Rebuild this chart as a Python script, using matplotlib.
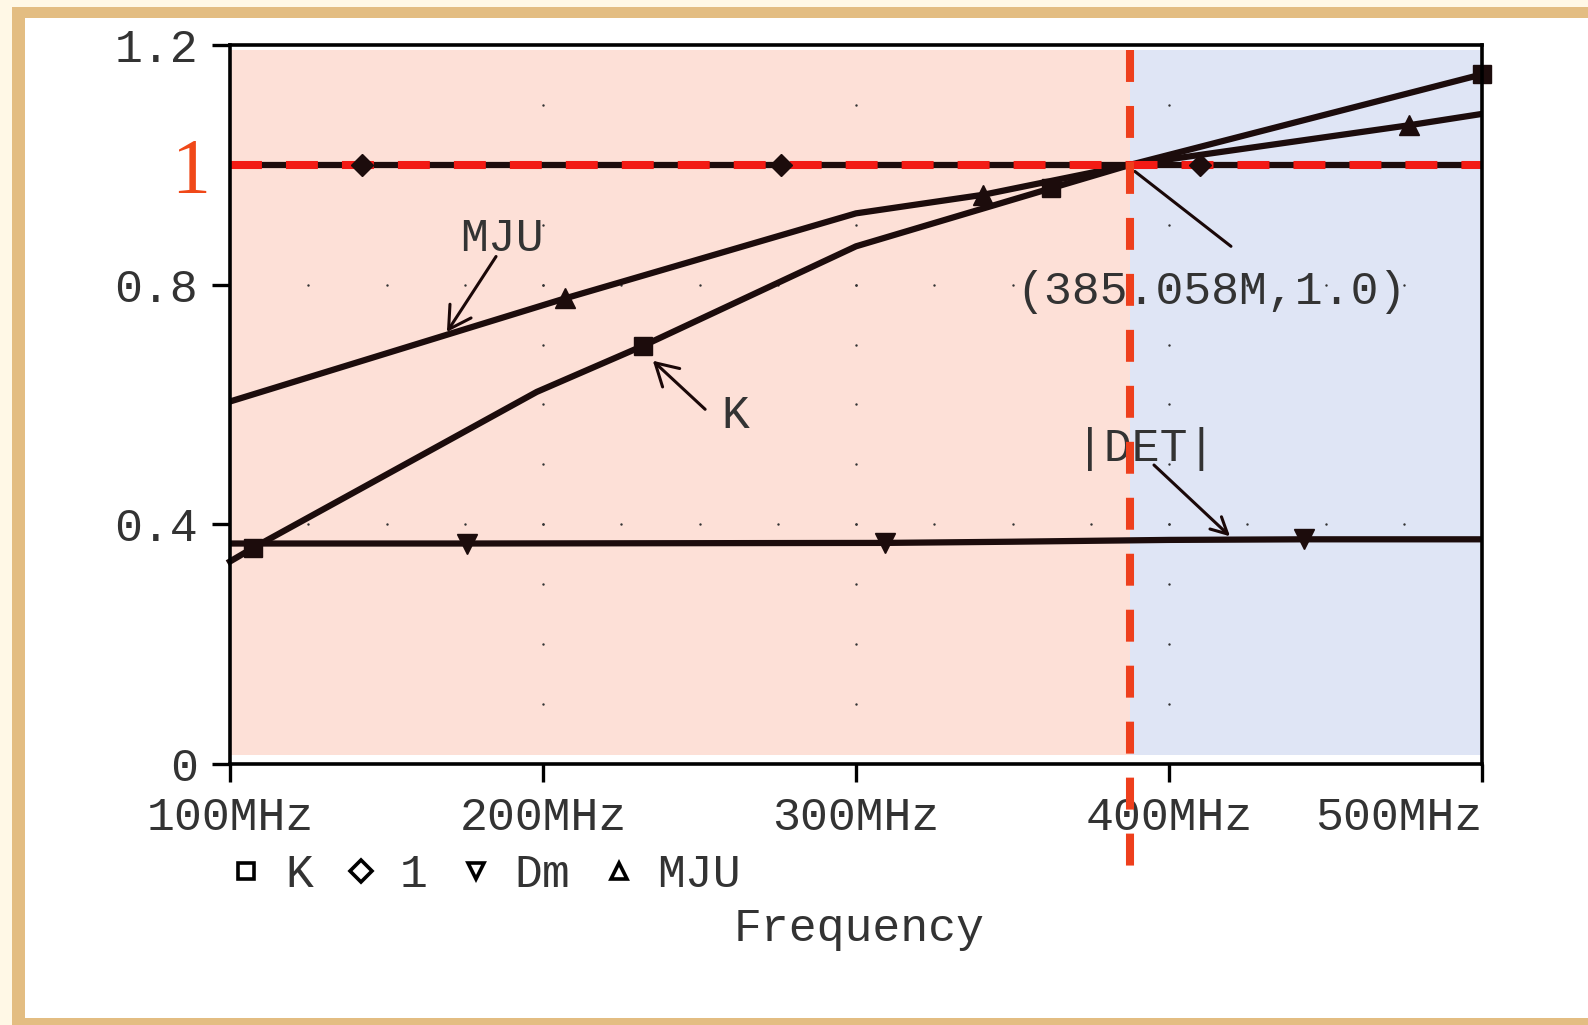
import numpy as np
import matplotlib
matplotlib.use('Agg')
import matplotlib.pyplot as plt
from matplotlib.patches import Rectangle
from matplotlib.lines import Line2D

# ---------------- data ----------------
freq_K = [100, 107.5, 198, 232, 300, 362.4, 387.6, 500]
val_K = [0.338, 0.361, 0.621, 0.698, 0.864, 0.961, 1.0, 1.151]
mark_K = [1, 3, 5, 7]

freq_one = [100, 142.1, 276, 409.8, 500]
val_one = [1.0, 1.0, 1.0, 1.0, 1.0]
mark_one = [1, 2, 3]

freq_Dm = [100, 175.6, 309.4, 350, 400, 443.1, 500]
val_Dm = [0.368, 0.368, 0.369, 0.371, 0.374, 0.375, 0.375]
mark_Dm = [1, 2, 5]

freq_MJU = [100, 207, 300, 340.6, 387.6, 476.6, 500]
val_MJU = [0.605, 0.777, 0.919, 0.950, 1.0, 1.066, 1.085]
mark_MJU = [1, 3, 5]

x_ticks = [100, 200, 300, 400, 500]
x_tick_labels = ['100MHz', '200MHz', '300MHz', '400MHz', '500MHz']
y_ticks = [0, 0.4, 0.8, 1.2]
y_tick_labels = ['0', '0.4', '0.8', '1.2']

cross_freq = 387.6
cross_level = 1.0
cross_label = '(385.058M,1.0)'

legend_names = ['K', '1', 'Dm', 'MJU']
legend_markers = ['s', 'D', 'v', '^']
# ---------------------------------------------------------------

W, H = 1588, 1025
FS = 33.5
MONO = 'Liberation Mono'
TXT = '#333333'
LINE = '#1c0c0c'
plt.rcParams['lines.scale_dashes'] = False

fig = plt.figure(figsize=(W / 100, H / 100), dpi=100)
fig.patch.set_facecolor('#FFF8E6')

# frame
fig.patches.append(Rectangle((12 / W, 0), 2, (H - 7) / H, transform=fig.transFigure,
                             facecolor='#E3BD82', edgecolor='none', zorder=-2))
fig.patches.append(Rectangle((25 / W, (H - 1018) / H), 2, (1018 - 18) / H,
                             transform=fig.transFigure, facecolor='white',
                             edgecolor='none', zorder=-1))

ax = fig.add_axes([230 / W, 1 - 764 / H, 1252 / W, 719 / H])
ax.set_zorder(2)
ax.set_facecolor('white')
ax.set_xlim(100, 500)
ax.set_ylim(0, 1.2)

# shaded regions
ax.axvspan(100, cross_freq, ymin=0.0125, ymax=0.993, color='#FDE0D7', lw=0, zorder=0)
ax.axvspan(cross_freq, 500, ymin=0.0125, ymax=0.993, color='#DFE5F5', lw=0, zorder=0)

# dotted grid (PSpice style)
gx_major = np.array(x_ticks[1:-1])
gy_minor = np.arange(1, 12) / 10
gy_major = np.array(y_ticks[1:-1])
gx_minor = np.arange(100 + 25, 500, 25)
XX, YY = np.meshgrid(gx_major, gy_minor)
ax.scatter(XX.ravel(), YY.ravel(), s=3, color='#333333', lw=0, zorder=1)
XX, YY = np.meshgrid(gx_minor, gy_major)
ax.scatter(XX.ravel(), YY.ravel(), s=3, color='#333333', lw=0, zorder=1)

# series
lw = 4.5
ax.plot(freq_one, val_one, color=LINE, lw=lw, zorder=2, solid_capstyle='butt')
ax.plot(freq_K, val_K, color=LINE, lw=lw, zorder=2.1, marker='s', ms=13,
        markevery=mark_K, clip_on=False)
ax.plot(freq_Dm, val_Dm, color=LINE, lw=lw, zorder=2.1, marker='v', ms=14,
        markevery=mark_Dm)
ax.plot(freq_MJU, val_MJU, color=LINE, lw=lw, zorder=2.1, marker='^', ms=14,
        markevery=mark_MJU)

# red dashed reference at 1
ax.plot([100, 500], [cross_level, cross_level], color='#F21A14', lw=5.8,
        dashes=(23, 17.3), zorder=3, solid_capstyle='butt', dash_capstyle='butt')
# markers of the "1" series on top
ax.plot(np.array(freq_one)[mark_one], np.array(val_one)[mark_one], ls='none',
        marker='D', ms=11, color=LINE, zorder=3.5)

# vertical dashed line at the crossing
ax.plot([cross_freq, cross_freq], [1.192, -0.174], color='#EE3F1C', lw=5.8,
        dashes=(23, 17.3), zorder=6, clip_on=False, dash_capstyle='butt')

# spines / ticks
for s in ax.spines.values():
    s.set_linewidth(2.6)
    s.set_color('black')
    s.set_zorder(4)
ax.set_xticks(x_ticks)
ax.set_xticklabels(x_tick_labels)
ax.set_yticks(y_ticks)
ax.set_yticklabels(y_tick_labels)
ax.tick_params(axis='both', direction='out', length=13, width=2.4, colors='black',
               labelsize=FS)
ax.tick_params(axis='x', pad=10)
ax.tick_params(axis='y', pad=10)
for t in ax.get_xticklabels() + ax.get_yticklabels():
    t.set_family(MONO)
    t.set_color(TXT)
ax.get_xticklabels()[-1].set_horizontalalignment('right')

# red "1" label
ax.annotate('1', xy=(-0.0315, cross_level), xycoords=ax.get_yaxis_transform(),
            xytext=(0, -6), textcoords='offset points',
            ha='center', va='center', fontsize=56, family='Liberation Serif',
            color='#F04818', zorder=5, annotation_clip=False)

# annotations
def arrow(text, xy, xytext_tail, xytext_label, hl=0.47, hw=0.27, head=True):
    ax.text(*xytext_label, text, ha='center', va='center', fontsize=FS,
            family=MONO, color=TXT, zorder=4)
    style = f'->,head_length={hl},head_width={hw}' if head else '-'
    ax.annotate('', xy=xy, xytext=xytext_tail,
                arrowprops=dict(arrowstyle=style, lw=2.2, color='#1a0808',
                                shrinkA=0, shrinkB=0, mutation_scale=FS),
                zorder=4)

arrow('MJU', (169.3, 0.721), (185.0, 0.847), (187.0, 0.876))
arrow('K', (235.1, 0.673), (251.8, 0.592), (261.6, 0.581))
arrow('|DET|', (419.5, 0.380), (395.2, 0.499), (392.7, 0.526), hl=0.35, hw=0.18)
arrow(cross_label, (389.1, 0.989), (419.8, 0.864), (413.4, 0.788), head=False)

# legend
handles = [Line2D([], [], ls='none', marker=m, ms=11, mfc='none', mec='black',
                  mew=2.6) for m in legend_markers]
leg = fig.legend(handles, legend_names, loc='center left',
                 bbox_to_anchor=(236.7 / W, 1 - 875 / H), ncol=4, frameon=False,
                 borderpad=0, borderaxespad=0, handlelength=0.4, handletextpad=0.64,
                 columnspacing=0.83, prop={'family': MONO, 'size': FS})
for t in leg.get_texts():
    t.set_color(TXT)

fig.text(859 / W, 1 - 929 / H, 'Frequency', ha='center', va='center',
         fontsize=FS, family=MONO, color=TXT)

fig.savefig('out.png', dpi=100, facecolor=fig.get_facecolor())
